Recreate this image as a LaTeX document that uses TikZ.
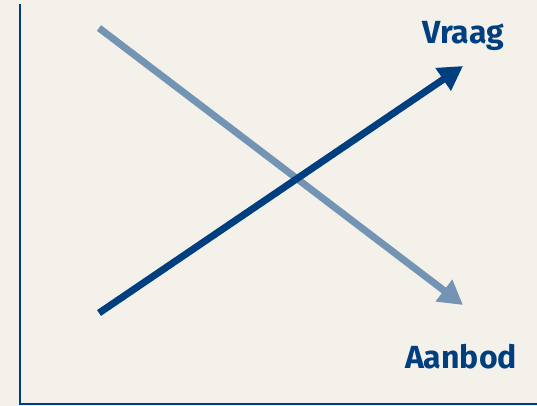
\documentclass[tikz,border=0pt]{standalone}
\usepackage{fontspec}
\setmainfont{Fira Sans}
\usetikzlibrary{arrows.meta}
\definecolor{bg}{HTML}{F3F1EA}
\definecolor{dblue}{HTML}{003F7F}
\definecolor{lblue}{HTML}{7494B4}
\tikzset{
  curve/.style={line width=7pt, -{Triangle[length=24pt,width=26pt]}},
  lbl/.style={text=dblue, font=\bfseries\fontsize{32}{36}\selectfont, anchor=base},
  axis/.style={dblue, line width=2pt}
}
\begin{document}
\begin{tikzpicture}[x=1pt,y=-1pt]
\fill[bg] (0,0) rectangle (537,406);
\useasboundingbox (0,0) rectangle (537,406);
\coordinate (top) at (19.5,4);
\coordinate (origin) at (19.5,404);
\coordinate (right) at (537,404);
\draw[axis] (top) -- (origin) -- (right);
\coordinate (s1) at (99,28);
\coordinate (e1) at (463,305);
\coordinate (s2) at (99,313);
\coordinate (e2) at (463,66);
\draw[curve, lblue] (s1) -- (e1);
\draw[curve, dblue] (s2) -- (e2);
\node[lbl] (vraag) at (463,44) {Vraag};
\node[lbl] (aanbod) at (461,368) {Aanbod};
\end{tikzpicture}
\end{document}
